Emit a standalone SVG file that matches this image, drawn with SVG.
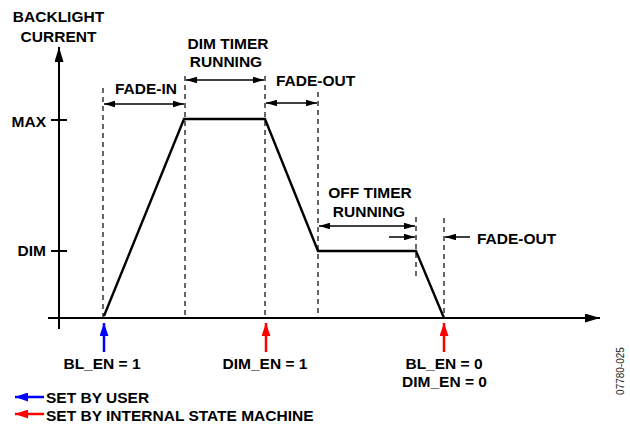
<svg xmlns="http://www.w3.org/2000/svg" width="630" height="426" viewBox="0 0 630 426">
<style>
.t{font-family:"Liberation Sans",Arial,sans-serif;font-weight:bold;font-size:15.5px;fill:#000}
.c{text-anchor:middle}
.e{text-anchor:end}
.ax{stroke:#000;stroke-width:2;fill:none}
.dash{stroke:#000;stroke-width:1.2;stroke-dasharray:5,4;fill:none}
.dim{stroke:#000;stroke-width:1.5;fill:none}
.trace{stroke:#000;stroke-width:2.4;fill:none;stroke-linejoin:miter}
</style>
<defs>
<marker id="ah" viewBox="0 0 10 10" refX="10" refY="5" markerWidth="11" markerHeight="6.5" markerUnits="userSpaceOnUse" orient="auto-start-reverse" preserveAspectRatio="none"><path d="M0,0 L10,5 L0,10 z" fill="#000"/></marker>
<marker id="axh" viewBox="0 0 10 10" refX="10" refY="5" markerWidth="15" markerHeight="9" markerUnits="userSpaceOnUse" orient="auto" preserveAspectRatio="none"><path d="M0,0 L10,5 L0,10 z" fill="#000"/></marker>
<marker id="bh" viewBox="0 0 10 10" refX="10" refY="5" markerWidth="13" markerHeight="9" markerUnits="userSpaceOnUse" orient="auto" preserveAspectRatio="none"><path d="M0,0 L10,5 L0,10 z" fill="#0000ff"/></marker>
<marker id="rh" viewBox="0 0 10 10" refX="10" refY="5" markerWidth="13" markerHeight="9" markerUnits="userSpaceOnUse" orient="auto" preserveAspectRatio="none"><path d="M0,0 L10,5 L0,10 z" fill="#ff0000"/></marker>
</defs>

<g id="axes">
<line class="ax" x1="59" y1="329" x2="59" y2="47" marker-end="url(#axh)"/>
<line class="ax" x1="48" y1="318" x2="600" y2="318" marker-end="url(#axh)"/>
<line class="ax" x1="51" y1="120" x2="67" y2="120" stroke-width="1.5"/>
<line class="ax" x1="51" y1="251" x2="67" y2="251" stroke-width="1.5"/>
<text class="t" x="58.5" y="22" text-anchor="middle">BACKLIGHT</text>
<text class="t" x="58.5" y="42" text-anchor="middle">CURRENT</text>
<text class="t e" x="46" y="127">MAX</text>
<text class="t e" x="46" y="256">DIM</text>
</g>

<g id="guides">
<line class="dash" x1="103" y1="88" x2="103" y2="318"/>
<line class="dash" x1="185" y1="76" x2="185" y2="316"/>
<line class="dash" x1="265" y1="76" x2="265" y2="316"/>
<line class="dash" x1="318" y1="92" x2="318" y2="318"/>
<line class="dash" x1="416" y1="217" x2="416" y2="277"/>
<line class="dash" x1="444" y1="218" x2="444" y2="318"/>
</g>

<g id="trace">
<path class="trace" d="M104,316 L184,119 L265,119 L318,251 L416,251 L444,318"/>
</g>

<g id="connectors">
<line class="dim" x1="104" y1="104" x2="184" y2="104" marker-start="url(#ah)" marker-end="url(#ah)"/>
<line class="dim" x1="186" y1="80" x2="264" y2="80" marker-start="url(#ah)" marker-end="url(#ah)"/>
<line class="dim" x1="266" y1="103" x2="317" y2="103" marker-start="url(#ah)" marker-end="url(#ah)"/>
<line class="dim" x1="319" y1="226" x2="415" y2="226" marker-start="url(#ah)" marker-end="url(#ah)"/>
<line class="dim" x1="389" y1="237" x2="415" y2="237" marker-end="url(#ah)"/>
<line class="dim" x1="470" y1="237" x2="445" y2="237" marker-end="url(#ah)"/>
<line stroke="#0000ff" stroke-width="2.5" x1="104" y1="352" x2="104" y2="323" marker-end="url(#bh)"/>
<line stroke="#ff0000" stroke-width="2.5" x1="266" y1="352" x2="266" y2="323" marker-end="url(#rh)"/>
<line stroke="#ff0000" stroke-width="2.5" x1="444" y1="352" x2="444" y2="323" marker-end="url(#rh)"/>
<line stroke="#0000ff" stroke-width="2.5" x1="44" y1="397" x2="15" y2="397" marker-end="url(#bh)"/>
<line stroke="#ff0000" stroke-width="2.5" x1="44" y1="414" x2="15" y2="414" marker-end="url(#rh)"/>
</g>

<g id="labels">
<text class="t c" x="146" y="94">FADE-IN</text>
<text class="t c" x="228" y="49">DIM TIMER</text>
<text class="t c" x="226" y="67">RUNNING</text>
<text class="t" x="276" y="86">FADE-OUT</text>
<text class="t c" x="370" y="198">OFF TIMER</text>
<text class="t c" x="369" y="217">RUNNING</text>
<text class="t" x="477" y="244">FADE-OUT</text>
<text class="t c" x="102" y="369">BL_EN = 1</text>
<text class="t c" x="265" y="369">DIM_EN = 1</text>
<text class="t c" x="444" y="369">BL_EN = 0</text>
<text class="t c" x="444.5" y="387">DIM_EN = 0</text>
<text class="t" x="46" y="403">SET BY USER</text>
<text class="t" x="46" y="421">SET BY INTERNAL STATE MACHINE</text>
<text x="624" y="371" transform="rotate(-90 624 371)" text-anchor="middle" style="font-family:'Liberation Sans',Arial,sans-serif;font-size:10px;fill:#222">07780-025</text>
</g>
</svg>
